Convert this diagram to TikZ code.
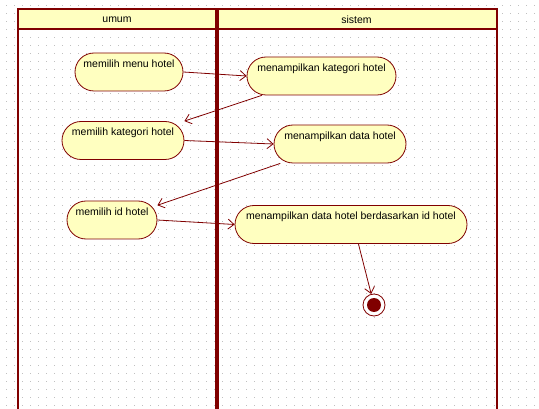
\documentclass[tikz,border=0pt]{standalone}
\usepackage{fontspec}
\setmainfont{Liberation Sans}
\usetikzlibrary{arrows.meta}
\definecolor{lanered}{HTML}{800000}
\definecolor{actfill}{HTML}{FFFFC0}
\definecolor{dotgray}{HTML}{C0C0C0}
\tikzset{
  act/.style={draw=lanered, fill=actfill, line width=0.8pt, rounded corners=19pt,
    minimum height=38pt, inner xsep=0pt, inner ysep=0pt,
    text height=7.5pt, text depth=16.5pt, font=\fontsize{10.5}{12}\selectfont},
  flow/.style={draw=lanered, line width=0.8pt, -{Straight Barb[length=6pt,width=10pt]}},
  lane/.style={draw=lanered, line width=2pt},
  lanehead/.style={font=\fontsize{10.5}{12}\selectfont},
}
\begin{document}
\begin{tikzpicture}[scale=1.000000,x=1pt,y=-1pt]
\useasboundingbox (0.000000,0.000000) rectangle (539.000000,409.000000);
\fill[white] (0.000000,0.000000) rectangle (539.000000,409.000000);
% Drawing grid dots
\foreach \gx in {6,14,...,534}
  \foreach \gy in {5,13,...,405}
    \fill[dotgray] (\gx,\gy) rectangle +(1,1);
% Drawing swimlanes
\fill[actfill] (18.000000,9.000000) rectangle (497.000000,29.000000);
\draw[lane] (18.000000,409.000000) -- (18.000000,9.000000) -- (497.000000,9.000000) -- (497.000000,409.000000);
\draw[lane] (18.000000,29.000000) -- (497.000000,29.000000);
\draw[lane, line width=4pt] (216.500000,9.000000) -- (216.500000,409.000000);
\node[lanehead] (umum) at (117.000000,19.500000) {umum};
\node[lanehead] (sistem) at (356.500000,19.500000) {sistem};
% Done with swimlanes; drawing activities
\node[act, minimum width=108pt] (pilihmenu) at (129.000000,72.000000) {memilih menu hotel};
\node[act, minimum width=149pt] (tampilkat) at (321.500000,76.000000) {menampilkan kategori hotel};
\node[act, minimum width=122pt] (pilihkat) at (123.000000,140.500000) {memilih kategori hotel};
\node[act, minimum width=132pt] (tampildata) at (340.000000,144.000000) {menampilkan data hotel};
\node[act, minimum width=90pt] (pilihid) at (112.000000,220.000000) {memilih id hotel};
\node[act, minimum width=232pt] (tampilid) at (351.000000,224.500000) {menampilkan data hotel berdasarkan id hotel};
\node[circle, draw=lanered, fill=white, line width=0.8pt, minimum size=22pt, inner sep=0pt] (selesai) at (374.000000,305.000000) {};
\fill[lanered] (selesai) circle (7pt);
% Done with activities; drawing flows
\draw[flow] (pilihmenu.east) -- (tampilkat.west);
\draw[flow] (tampilkat.198) -- (pilihkat.north east);
\draw[flow] (pilihkat.east) -- (tampildata.west);
\draw[flow] (tampildata.198) -- (pilihid.18);
\draw[flow] (pilihid.east) -- (tampilid.west);
\draw[flow] (tampilid.291) -- (selesai);
% Done with flows
\end{tikzpicture}
\end{document}
